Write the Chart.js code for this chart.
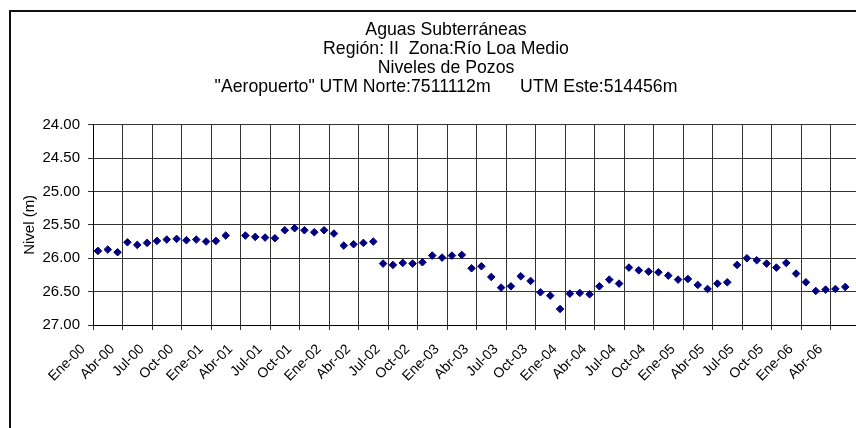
<!DOCTYPE html>
<html lang="es">
<head>
<meta charset="utf-8">
<title>Niveles de Pozos - Aeropuerto</title>
<script src="https://cdn.jsdelivr.net/npm/chart.js@4.4.1/dist/chart.umd.min.js"></script>
<style>
  html, body { margin: 0; padding: 0; overflow: hidden; background: #fff; }
  #marco {
    position: absolute; left: 9px; top: 10px; width: 1000px; height: 600px;
    border: 2px solid #111; box-sizing: border-box;
  }
  #wrap { position: absolute; left: 0; top: 0; width: 892px; height: 428px; }
</style>
</head>
<body>
<div id="marco"></div>
<div id="wrap"><canvas id="chart-niveles" width="892" height="428"></canvas></div>
<script>
// Meses y años de la serie mensual (Ene-00 .. Jun-06)
const meses = ['Ene', 'Feb', 'Mar', 'Abr', 'May', 'Jun', 'Jul', 'Ago', 'Sep', 'Oct', 'Nov', 'Dic'];
const anios = ['00', '01', '02', '03', '04', '05', '06'];
const totalMeses = 78;

// Nivel del pozo (m), un valor por mes; null = sin medición
const niveles2000 = [25.89, 25.87, 25.91, 25.76, 25.80, 25.77, 25.74, 25.72, 25.71, 25.73, 25.72, 25.75];
const niveles2001 = [25.74, 25.66, null, 25.66, 25.68, 25.69, 25.70, 25.58, 25.55, 25.58, 25.61, 25.58];
const niveles2002 = [25.63, 25.81, 25.79, 25.77, 25.75, 26.08, 26.10, 26.07, 26.08, 26.06, 25.96, 25.99];
const niveles2003 = [25.96, 25.95, 26.15, 26.12, 26.28, 26.44, 26.42, 26.27, 26.34, 26.51, 26.56, 26.76];
const niveles2004 = [26.53, 26.52, 26.54, 26.42, 26.32, 26.38, 26.14, 26.18, 26.20, 26.21, 26.26, 26.32];
const niveles2005 = [26.31, 26.40, 26.46, 26.38, 26.36, 26.10, 26.00, 26.03, 26.08, 26.14, 26.07, 26.23];
const niveles2006 = [26.36, 26.49, 26.47, 26.46, 26.43, null];

// Eje Y (invertido)
const nivelMin = 24;
const nivelMax = 27;
const nivelPaso = 0.5;

const titulo = [
  'Aguas Subterráneas',
  'Región: II  Zona:Río Loa Medio',
  'Niveles de Pozos',
  '"Aeropuerto" UTM Norte:7511112m      UTM Este:514456m'
];

const categorias = [];
anios.forEach(a => meses.forEach(m => categorias.push(m + '-' + a)));
categorias.length = totalMeses;

const niveles = [].concat(niveles2000, niveles2001, niveles2002, niveles2003,
  niveles2004, niveles2005, niveles2006);

const FUENTE = 'Liberation Sans, Arial, Helvetica, sans-serif';
Chart.defaults.font.family = FUENTE;
Chart.defaults.color = '#000';

// una línea de división cada trimestre
const cadaTrimestre = ctx => (ctx.index !== undefined && ctx.index % 3 === 0) ? '#333' : 'rgba(0,0,0,0)';

new Chart(document.getElementById('chart-niveles'), {
  type: 'line',
  data: {
    labels: categorias,
    datasets: [{
      label: 'Nivel (m)',
      data: niveles,
      showLine: false,
      pointStyle: 'rectRot',
      pointRadius: 3.8,
      pointHoverRadius: 3.8,
      pointBorderWidth: 1,
      pointBackgroundColor: '#000080',
      pointBorderColor: '#000080'
    }]
  },
  options: {
    responsive: false,
    animation: false,
    layout: { padding: 0 },
    plugins: {
      legend: { display: false },
      tooltip: { enabled: false },
      title: {
        display: true,
        text: titulo,
        color: '#000',
        font: { family: FUENTE, size: 17.7, weight: 'normal', lineHeight: 1.07 },
        padding: { top: 21, bottom: 28 }
      }
    },
    scales: {
      x: {
        type: 'category',
        offset: true,
        grid: {
          offset: true,
          color: cadaTrimestre,
          tickColor: cadaTrimestre,
          tickLength: 5,
          lineWidth: 1
        },
        border: { display: true, color: '#000', width: 1 },
        ticks: {
          autoSkip: false,
          maxRotation: 45,
          minRotation: 45,
          padding: 11,
          labelOffset: -15,
          font: { size: 14 },
          callback: (v, i) => i % 3 === 0 ? categorias[i] : ''
        },
        afterFit: s => { s.height = 103; }
      },
      y: {
        reverse: true,
        min: nivelMin,
        max: nivelMax,
        grid: { color: '#333', tickColor: '#333', tickLength: 5, lineWidth: 1 },
        border: { display: true, color: '#000', width: 1 },
        ticks: {
          stepSize: nivelPaso,
          padding: 8,
          font: { size: 15 },
          callback: v => Number(v).toFixed(2)
        },
        title: {
          display: true,
          text: 'Nivel (m)',
          font: { size: 15 },
          padding: { top: 21, bottom: 0 }
        },
        afterFit: s => { s.width = 93; }
      },
      // margen derecho vacío: el área de trazado termina antes del borde del lienzo
      margenDer: {
        type: 'linear',
        position: 'right',
        grid: { display: false },
        border: { display: false },
        ticks: { display: false },
        afterFit: s => { s.width = 32; }
      }
    }
  }
});
</script>
</body>
</html>
